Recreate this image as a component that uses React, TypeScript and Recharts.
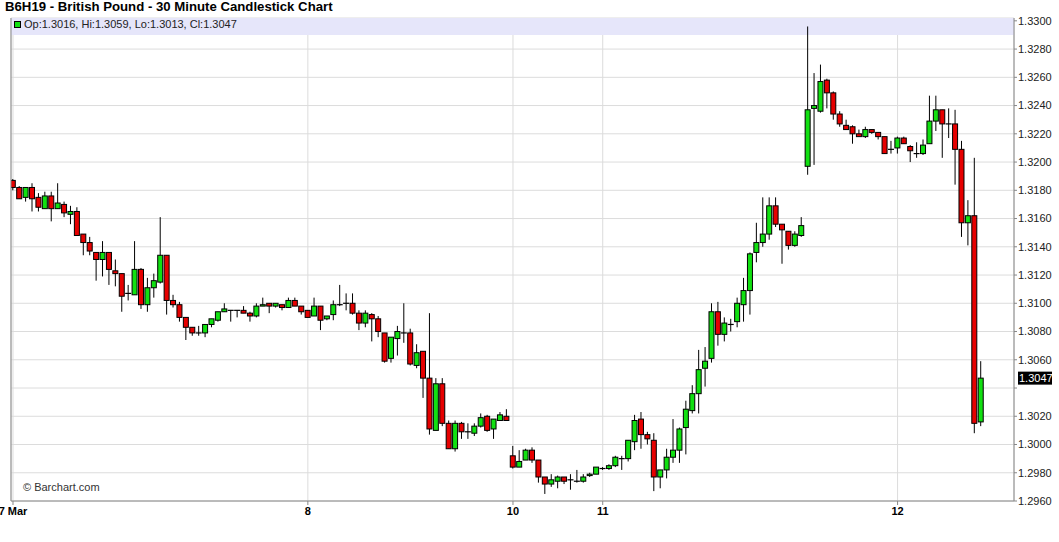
import React from 'react';
import { ComposedChart, Bar, XAxis, YAxis, CartesianGrid, ReferenceArea, ReferenceLine } from 'recharts';

const opens = [
  1.3187, 1.3182, 1.3175, 1.3182, 1.3175, 1.3167, 1.3176, 1.3167, 1.3170, 1.3163,
  1.3165, 1.3149, 1.3143, 1.3136, 1.3131, 1.3136, 1.3123, 1.3121, 1.3107, 1.3106,
  1.3124, 1.3099, 1.3111, 1.3115, 1.3134, 1.3102, 1.3099, 1.3090, 1.3083, 1.3079,
  1.3079, 1.3085, 1.3088, 1.3094, 1.3095, 1.3095, 1.3095, 1.3093, 1.3091, 1.3098,
  1.3100, 1.3098, 1.3099, 1.3097, 1.3102, 1.3098, 1.3095, 1.3091, 1.3098, 1.3089,
  1.3092, 1.3099, 1.3100, 1.3100, 1.3093, 1.3086, 1.3092, 1.3089, 1.3079, 1.3061,
  1.3075, 1.3079, 1.3079, 1.3056, 1.3066, 1.3047, 1.3010, 1.3043, 1.3015, 1.2997,
  1.3015, 1.3009, 1.3008, 1.3013, 1.3020, 1.3011, 1.3017, 1.3020, 1.2992, 1.2984,
  1.2989, 1.2996, 1.2989, 1.2977, 1.2972, 1.2974, 1.2977, 1.2975, 1.2974, 1.2974,
  1.2978, 1.2979, 1.2983, 1.2983, 1.2985, 1.2990, 1.2990, 1.3002, 1.3018, 1.3007,
  1.3003, 1.2977, 1.2982, 1.2991, 1.2996, 1.3012, 1.3024, 1.3036, 1.3054, 1.3061,
  1.3094, 1.3078, 1.3085, 1.3087, 1.3099, 1.3109, 1.3136, 1.3143, 1.3149, 1.3169,
  1.3156, 1.3151, 1.3141, 1.3148, 1.3197, 1.3238, 1.3236, 1.3258, 1.3249, 1.3234,
  1.3226, 1.3225, 1.3220, 1.3218, 1.3223, 1.3221, 1.3218, 1.3209, 1.3210, 1.3217,
  1.3211, 1.3206, 1.3206, 1.3213, 1.3229, 1.3237, 1.3227, 1.3227, 1.3209, 1.3157,
  1.3162, 1.3016,
];

const highs = [
  1.3188, 1.3183, 1.3182, 1.3185, 1.3178, 1.3179, 1.3179, 1.3185, 1.3172, 1.3169,
  1.3168, 1.3149, 1.3147, 1.3136, 1.3144, 1.3136, 1.3131, 1.3121, 1.3113, 1.3144,
  1.3125, 1.3118, 1.3121, 1.3161, 1.3134, 1.3106, 1.3101, 1.3090, 1.3083, 1.3084,
  1.3085, 1.3089, 1.3094, 1.3100, 1.3095, 1.3095, 1.3098, 1.3094, 1.3100, 1.3104,
  1.3100, 1.3100, 1.3099, 1.3104, 1.3104, 1.3098, 1.3095, 1.3104, 1.3098, 1.3091,
  1.3102, 1.3113, 1.3107, 1.3107, 1.3095, 1.3095, 1.3093, 1.3091, 1.3079, 1.3076,
  1.3084, 1.3100, 1.3082, 1.3071, 1.3066, 1.3093, 1.3047, 1.3047, 1.3017, 1.3017,
  1.3016, 1.3015, 1.3015, 1.3022, 1.3021, 1.3018, 1.3023, 1.3025, 1.2999, 1.2996,
  1.2997, 1.2998, 1.2989, 1.2977, 1.2979, 1.2978, 1.2977, 1.2979, 1.2982, 1.2979,
  1.2980, 1.2984, 1.2984, 1.2986, 1.2992, 1.2992, 1.3003, 1.3021, 1.3023, 1.3009,
  1.3008, 1.2982, 1.2997, 1.3018, 1.3012, 1.3031, 1.3042, 1.3067, 1.3069, 1.3100,
  1.3101, 1.3090, 1.3089, 1.3104, 1.3118, 1.3136, 1.3157, 1.3175, 1.3175, 1.3175,
  1.3156, 1.3151, 1.3151, 1.3161, 1.3296, 1.3263, 1.3269, 1.3259, 1.3250, 1.3236,
  1.3230, 1.3226, 1.3223, 1.3225, 1.3223, 1.3221, 1.3218, 1.3215, 1.3218, 1.3218,
  1.3212, 1.3214, 1.3216, 1.3247, 1.3247, 1.3237, 1.3238, 1.3237, 1.3215, 1.3173,
  1.3203, 1.3059,
];

const lows = [
  1.3180, 1.3174, 1.3172, 1.3165, 1.3165, 1.3167, 1.3158, 1.3167, 1.3161, 1.3156,
  1.3148, 1.3134, 1.3134, 1.3116, 1.3119, 1.3113, 1.3112, 1.3094, 1.3102, 1.3106,
  1.3096, 1.3094, 1.3104, 1.3114, 1.3092, 1.3097, 1.3087, 1.3074, 1.3077, 1.3077,
  1.3076, 1.3083, 1.3087, 1.3094, 1.3087, 1.3090, 1.3093, 1.3087, 1.3090, 1.3098,
  1.3093, 1.3097, 1.3095, 1.3097, 1.3098, 1.3092, 1.3090, 1.3091, 1.3081, 1.3088,
  1.3088, 1.3098, 1.3095, 1.3092, 1.3081, 1.3083, 1.3073, 1.3076, 1.3058, 1.3058,
  1.3063, 1.3072, 1.3056, 1.3054, 1.3033, 1.3007, 1.3010, 1.3013, 1.2997, 1.2995,
  1.3004, 1.3004, 1.3006, 1.3012, 1.3009, 1.3004, 1.3017, 1.3017, 1.2983, 1.2984,
  1.2989, 1.2987, 1.2973, 1.2965, 1.2970, 1.2969, 1.2972, 1.2968, 1.2973, 1.2973,
  1.2977, 1.2979, 1.2982, 1.2982, 1.2984, 1.2982, 1.2988, 1.2996, 1.2997, 1.3000,
  1.2967, 1.2969, 1.2976, 1.2987, 1.2987, 1.2993, 1.3022, 1.3022, 1.3041, 1.3058,
  1.3070, 1.3073, 1.3080, 1.3083, 1.3087, 1.3092, 1.3129, 1.3140, 1.3145, 1.3154,
  1.3128, 1.3138, 1.3140, 1.3147, 1.3191, 1.3198, 1.3235, 1.3238, 1.3230, 1.3225,
  1.3223, 1.3213, 1.3218, 1.3217, 1.3220, 1.3216, 1.3206, 1.3206, 1.3206, 1.3213,
  1.3200, 1.3203, 1.3205, 1.3213, 1.3222, 1.3203, 1.3217, 1.3184, 1.3147, 1.3141,
  1.3008, 1.3013,
];

const closes = [
  1.3182, 1.3174, 1.3182, 1.3174, 1.3168, 1.3176, 1.3167, 1.3171, 1.3164, 1.3165,
  1.3148, 1.3143, 1.3137, 1.3131, 1.3136, 1.3124, 1.3121, 1.3105, 1.3107, 1.3124,
  1.3099, 1.3111, 1.3116, 1.3134, 1.3102, 1.3099, 1.3090, 1.3083, 1.3079, 1.3079,
  1.3085, 1.3089, 1.3094, 1.3096, 1.3095, 1.3095, 1.3093, 1.3091, 1.3098, 1.3099,
  1.3098, 1.3100, 1.3097, 1.3102, 1.3098, 1.3094, 1.3090, 1.3098, 1.3088, 1.3091,
  1.3099, 1.3099, 1.3100, 1.3093, 1.3086, 1.3093, 1.3089, 1.3080, 1.3059, 1.3076,
  1.3080, 1.3079, 1.3057, 1.3065, 1.3047, 1.3011, 1.3043, 1.3015, 1.2997, 1.3015,
  1.3009, 1.3009, 1.3013, 1.3019, 1.3010, 1.3018, 1.3021, 1.3017, 1.2984, 1.2988,
  1.2996, 1.2989, 1.2977, 1.2972, 1.2975, 1.2977, 1.2974, 1.2975, 1.2974, 1.2977,
  1.2979, 1.2984, 1.2983, 1.2985, 1.2991, 1.2990, 1.3003, 1.3017, 1.3007, 1.3004,
  1.2977, 1.2982, 1.2991, 1.2996, 1.3011, 1.3025, 1.3036, 1.3053, 1.3059, 1.3094,
  1.3078, 1.3086, 1.3085, 1.3100, 1.3109, 1.3135, 1.3143, 1.3149, 1.3169, 1.3156,
  1.3152, 1.3141, 1.3149, 1.3155, 1.3237, 1.3240, 1.3257, 1.3249, 1.3234, 1.3227,
  1.3223, 1.3220, 1.3218, 1.3223, 1.3221, 1.3218, 1.3206, 1.3209, 1.3217, 1.3213,
  1.3208, 1.3206, 1.3212, 1.3229, 1.3237, 1.3227, 1.3227, 1.3209, 1.3157, 1.3162,
  1.3015, 1.3047,
];

const dayTickIndex = [0, 46, 78, 92, 138];
const dayTickLabels = ['7 Mar', '8', '10', '11', '12'];
const priceTicks = [
  1.296, 1.298, 1.3, 1.302, 1.304, 1.306, 1.308, 1.31, 1.312,
  1.314, 1.316, 1.318, 1.32, 1.322, 1.324, 1.326, 1.328, 1.33,
];

const title = 'B6H19 - British Pound - 30 Minute Candlestick Chart';
const credit = '\u00A9 Barchart.com';

const data = opens.map((o, i) => ({
  i,
  open: o,
  high: highs[i],
  low: lows[i],
  close: closes[i],
}));

const last = data[data.length - 1];
const UP = '#11e011';
const DOWN = '#e60000';
const FONT = '"Liberation Sans", Arial, Helvetica, sans-serif';
const X_DOMAIN: [number, number] = [-0.31, 156.16];
const Y_DOMAIN: [number, number] = [1.296, 1.3302];

const Candle = (props: any) => {
  const { x, y, width, height, payload } = props;
  if (!payload) return null;
  const { open, high, low, close } = payload;
  const top = Math.min(y, y + height);
  const bottom = Math.max(y, y + height);
  const span = high - low;
  const ratio = span > 0 ? (bottom - top) / span : 0;
  const yOf = (v: number) => top + (high - v) * ratio;
  const cx = x + width / 2;
  const bw = 5;
  const bTop = yOf(Math.max(open, close));
  const bBot = yOf(Math.min(open, close));
  const isDoji = Math.abs(open - close) < 1e-9;
  const color = close > open ? UP : DOWN;
  return (
    <g>
      <line x1={cx} x2={cx} y1={top} y2={bottom} stroke="#000" strokeWidth={1} />
      {isDoji ? (
        <line x1={cx - bw / 2 - 0.5} x2={cx + bw / 2 + 0.5} y1={bTop} y2={bTop} stroke="#000" strokeWidth={1.2} />
      ) : (
        <rect
          x={cx - bw / 2}
          y={bTop}
          width={bw}
          height={Math.max(bBot - bTop, 1)}
          fill={color}
          stroke="#000"
          strokeWidth={1}
        />
      )}
    </g>
  );
};

const PriceTick = (props: any) => {
  const { x, y, payload } = props;
  const v = payload.value as number;
  if (Math.abs(v - last.close) < 0.0012) return null;
  return (
    <text x={x} y={y} dy="0.355em" textAnchor="start" fontSize={11} fill="#222" fontFamily={FONT}>
      {v.toFixed(4)}
    </text>
  );
};

const LastPriceLabel = (props: any) => {
  const vb = props.viewBox || {};
  const rx = (vb.x || 0) + (vb.width || 0) + 4;
  const cy = vb.y || 0;
  return (
    <g>
      <rect x={rx} y={cy - 6.5} width={34} height={13} fill="#000" />
      <text x={rx + 1} y={cy} dy="0.355em" fontSize={11} fill="#fff" fontFamily={FONT}>
        {last.close.toFixed(4)}
      </text>
    </g>
  );
};

export default function App() {
  return (
    <div style={{ position: 'absolute', left: 0, top: 0, width: 1059, height: 542, background: '#fff', fontFamily: FONT }}>
      <ComposedChart
        width={1059}
        height={542}
        data={data}
        margin={{ top: 18, right: 0, bottom: 0, left: 11 }}
      >
        <CartesianGrid stroke="#dcdcdc" strokeWidth={1} />
        <ReferenceArea y1={1.329} y2={Y_DOMAIN[1]} fill="#e6e6fa" fillOpacity={1} stroke="none" ifOverflow="hidden" />
        <XAxis
          dataKey="i"
          type="number"
          domain={X_DOMAIN}
          allowDataOverflow
          ticks={dayTickIndex}
          interval={0}
          tickFormatter={(v: number) => dayTickLabels[dayTickIndex.indexOf(v)] ?? ''}
          height={41}
          tickSize={4}
          tickMargin={2}
          stroke="#888"
          tick={{ fontSize: 11, fontWeight: 'bold', fill: '#000', fontFamily: FONT }}
        />
        <YAxis
          orientation="right"
          domain={Y_DOMAIN}
          allowDataOverflow
          ticks={priceTicks}
          interval={0}
          width={45}
          tickSize={3}
          tickMargin={1}
          stroke="#888"
          tick={<PriceTick />}
        />
        <ReferenceLine x={X_DOMAIN[0]} stroke="#888" strokeWidth={1} ifOverflow="visible" />
        <ReferenceLine y={last.close} stroke="none" strokeWidth={0} ifOverflow="visible" label={<LastPriceLabel />} />
        <Bar
          dataKey={(d: any) => [d.low, d.high]}
          barSize={6}
          shape={<Candle />}
          isAnimationActive={false}
        />
      </ComposedChart>
      <div style={{ position: 'absolute', left: 5, top: 0, fontSize: 13.2, lineHeight: '13px', fontWeight: 'bold', color: '#000', whiteSpace: 'nowrap' }}>
        {title}
      </div>
      <div style={{ position: 'absolute', left: 14, top: 21, width: 5, height: 5, background: UP, border: '1px solid #000' }} />
      <div style={{ position: 'absolute', left: 24, top: 19, fontSize: 11, lineHeight: '11px', color: '#222', whiteSpace: 'nowrap' }}>
        {`Op:${last.open.toFixed(4)}, Hi:${last.high.toFixed(4)}, Lo:${last.low.toFixed(4)}, Cl:${last.close.toFixed(4)}`}
      </div>
      <div style={{ position: 'absolute', left: 23, top: 482, fontSize: 11, lineHeight: '11px', color: '#333', whiteSpace: 'nowrap' }}>
        {credit}
      </div>
    </div>
  );
}
